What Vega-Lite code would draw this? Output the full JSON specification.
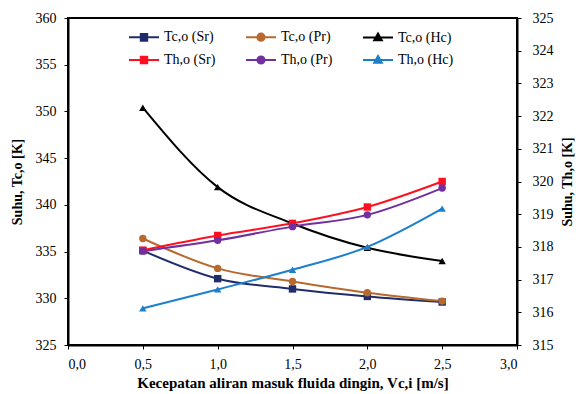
{
  "$schema": "https://vega.github.io/schema/vega-lite/v6.json",
  "autosize": "none",
  "width": 449,
  "height": 327,
  "padding": {"left": 68, "top": 18, "right": 59, "bottom": 49},
  "background": "white",
  "config": {
    "view": {"stroke": "black", "strokeWidth": 2},
    "font": "Liberation Serif, Times New Roman, DejaVu Serif, serif",
    "axis": {
      "labelFont": "Liberation Serif, Times New Roman, DejaVu Serif, serif",
      "labelFontSize": 14,
      "labelColor": "black",
      "titleFont": "Liberation Serif, Times New Roman, DejaVu Serif, serif",
      "titleFontSize": 14,
      "titleFontWeight": "bold",
      "titleColor": "black",
      "domainColor": "black",
      "domainWidth": 2,
      "tickColor": "black",
      "tickSize": 4,
      "grid": false,
      "labelOverlap": false
    },
    "legend": {
      "labelFont": "Liberation Serif, Times New Roman, DejaVu Serif, serif",
      "labelFontSize": 14,
      "labelColor": "black"
    }
  },
  "data": {
    "values": [
      {"x": 0.5, "value": 335.1, "series": "Tc,o (Sr)", "side": "Tc"},
      {"x": 1.0, "value": 332.1, "series": "Tc,o (Sr)", "side": "Tc"},
      {"x": 1.5, "value": 331.0, "series": "Tc,o (Sr)", "side": "Tc"},
      {"x": 2.0, "value": 330.2, "series": "Tc,o (Sr)", "side": "Tc"},
      {"x": 2.5, "value": 329.6, "series": "Tc,o (Sr)", "side": "Tc"},
      {"x": 0.5, "value": 336.4, "series": "Tc,o (Pr)", "side": "Tc"},
      {"x": 1.0, "value": 333.2, "series": "Tc,o (Pr)", "side": "Tc"},
      {"x": 1.5, "value": 331.8, "series": "Tc,o (Pr)", "side": "Tc"},
      {"x": 2.0, "value": 330.6, "series": "Tc,o (Pr)", "side": "Tc"},
      {"x": 2.5, "value": 329.7, "series": "Tc,o (Pr)", "side": "Tc"},
      {"x": 0.5, "value": 350.4, "series": "Tc,o (Hc)", "side": "Tc"},
      {"x": 1.0, "value": 341.9, "series": "Tc,o (Hc)", "side": "Tc"},
      {"x": 1.5, "value": 338.0, "series": "Tc,o (Hc)", "side": "Tc"},
      {"x": 2.0, "value": 335.4, "series": "Tc,o (Hc)", "side": "Tc"},
      {"x": 2.5, "value": 334.0, "series": "Tc,o (Hc)", "side": "Tc"},
      {"x": 0.5, "value": 317.9, "series": "Th,o (Sr)", "side": "Th"},
      {"x": 1.0, "value": 318.35, "series": "Th,o (Sr)", "side": "Th"},
      {"x": 1.5, "value": 318.72, "series": "Th,o (Sr)", "side": "Th"},
      {"x": 2.0, "value": 319.22, "series": "Th,o (Sr)", "side": "Th"},
      {"x": 2.5, "value": 320.0, "series": "Th,o (Sr)", "side": "Th"},
      {"x": 0.5, "value": 317.87, "series": "Th,o (Pr)", "side": "Th"},
      {"x": 1.0, "value": 318.2, "series": "Th,o (Pr)", "side": "Th"},
      {"x": 1.5, "value": 318.62, "series": "Th,o (Pr)", "side": "Th"},
      {"x": 2.0, "value": 318.98, "series": "Th,o (Pr)", "side": "Th"},
      {"x": 2.5, "value": 319.8, "series": "Th,o (Pr)", "side": "Th"},
      {"x": 0.5, "value": 316.12, "series": "Th,o (Hc)", "side": "Th"},
      {"x": 1.0, "value": 316.7, "series": "Th,o (Hc)", "side": "Th"},
      {"x": 1.5, "value": 317.3, "series": "Th,o (Hc)", "side": "Th"},
      {"x": 2.0, "value": 318.0, "series": "Th,o (Hc)", "side": "Th"},
      {"x": 2.5, "value": 319.17, "series": "Th,o (Hc)", "side": "Th"}
    ]
  },
  "encoding": {
    "x": {
      "field": "x",
      "type": "quantitative",
      "scale": {"domain": [0, 3]},
      "axis": {
        "values": [0, 0.5, 1, 1.5, 2, 2.5, 3],
        "labelExpr": "replace(format(datum.value, '.1f'), '.', ',')",
        "labelPadding": 8,
        "title": "Kecepatan aliran  masuk fluida dingin, Vc,i [m/s]",
        "titleFontSize": 15,
        "titlePadding": 4
      }
    }
  },
  "layer": [
    {
      "transform": [{"filter": "datum.side === 'Tc'"}],
      "encoding": {
        "y": {
          "field": "value",
          "type": "quantitative",
          "scale": {"domain": [325, 360], "zero": false},
          "axis": {
            "orient": "left",
            "values": [325, 330, 335, 340, 345, 350, 355, 360],
            "labelPadding": 8,
            "title": "Suhu, Tc,o [K]",
            "titlePadding": 11
          }
        },
        "color": {
          "field": "series",
          "type": "nominal",
          "legend": null,
          "scale": {
            "domain": ["Tc,o (Sr)", "Tc,o (Pr)", "Tc,o (Hc)", "Th,o (Sr)", "Th,o (Pr)", "Th,o (Hc)"],
            "range": ["#1F2D6B", "#B8692D", "#000000", "#FF1020", "#7030A0", "#1B7FCC"]
          }
        }
      },
      "layer": [
        {"mark": {"type": "line", "strokeWidth": 2, "interpolate": "monotone"}},
        {
          "mark": {"type": "point", "filled": true, "opacity": 1, "size": 55},
          "encoding": {
            "shape": {
              "field": "series",
              "type": "nominal",
              "legend": null,
              "scale": {
                "domain": ["Tc,o (Sr)", "Tc,o (Pr)", "Tc,o (Hc)", "Th,o (Sr)", "Th,o (Pr)", "Th,o (Hc)"],
                "range": ["square", "circle", "triangle-up", "square", "circle", "triangle-up"]
              }
            }
          }
        }
      ]
    },
    {
      "transform": [{"filter": "datum.side === 'Th'"}],
      "encoding": {
        "y": {
          "field": "value",
          "type": "quantitative",
          "scale": {"domain": [315, 325], "zero": false},
          "axis": {
            "orient": "right",
            "values": [315, 316, 317, 318, 319, 320, 321, 322, 323, 324, 325],
            "labelPadding": 11,
            "title": "Suhu, Th,o [K]",
            "titleAngle": 270,
            "titleBaseline": "top",
            "titlePadding": 7
          }
        },
        "color": {
          "field": "series",
          "type": "nominal",
          "legend": null,
          "scale": {
            "domain": ["Tc,o (Sr)", "Tc,o (Pr)", "Tc,o (Hc)", "Th,o (Sr)", "Th,o (Pr)", "Th,o (Hc)"],
            "range": ["#1F2D6B", "#B8692D", "#000000", "#FF1020", "#7030A0", "#1B7FCC"]
          }
        }
      },
      "layer": [
        {"mark": {"type": "line", "strokeWidth": 2, "interpolate": "monotone"}},
        {
          "mark": {"type": "point", "filled": true, "opacity": 1, "size": 55},
          "encoding": {
            "shape": {
              "field": "series",
              "type": "nominal",
              "legend": null,
              "scale": {
                "domain": ["Tc,o (Sr)", "Tc,o (Pr)", "Tc,o (Hc)", "Th,o (Sr)", "Th,o (Pr)", "Th,o (Hc)"],
                "range": ["square", "circle", "triangle-up", "square", "circle", "triangle-up"]
              }
            }
          }
        }
      ]
    },
    {
      "mark": {"type": "point", "filled": true, "opacity": 0},
      "encoding": {
        "fill": {
          "field": "series",
          "type": "nominal",
          "scale": {
            "domain": ["Tc,o (Sr)", "Tc,o (Pr)", "Tc,o (Hc)", "Th,o (Sr)", "Th,o (Pr)", "Th,o (Hc)"],
            "range": ["#1F2D6B", "#B8692D", "#000000", "#FF1020", "#7030A0", "#1B7FCC"]
          },
          "legend": {
            "title": null,
            "orient": "none",
            "direction": "horizontal",
            "legendX": 60,
            "legendY": 10,
            "columns": 3,
            "columnPadding": 26,
            "rowPadding": 6,
            "symbolSize": 256,
            "symbolStrokeWidth": 2,
            "symbolOpacity": 1,
            "labelOffset": 18,
            "encode": {
              "symbols": {
                "update": {
                  "stroke": {"signal": "({'Tc,o (Sr)': '#1F2D6B', 'Tc,o (Pr)': '#B8692D', 'Tc,o (Hc)': '#000000', 'Th,o (Sr)': '#FF1020', 'Th,o (Pr)': '#7030A0', 'Th,o (Hc)': '#1B7FCC'})[datum.value]"}
                }
              }
            }
          }
        },
        "shape": {
          "field": "series",
          "type": "nominal",
          "scale": {
            "domain": ["Tc,o (Sr)", "Tc,o (Pr)", "Tc,o (Hc)", "Th,o (Sr)", "Th,o (Pr)", "Th,o (Hc)"],
            "range": [
              "M-1,0H2.75M0.475,-0.42H1.275V0.42H0.475Z",
              "M-1,0H2.75M1.325,0A0.45,0.45,0,1,1,0.425,0A0.45,0.45,0,1,1,1.325,0Z",
              "M-1,0H2.75M0.875,-0.5L1.35,0.35L0.4,0.35Z",
              "M-1,0H2.75M0.475,-0.42H1.275V0.42H0.475Z",
              "M-1,0H2.75M1.325,0A0.45,0.45,0,1,1,0.425,0A0.45,0.45,0,1,1,1.325,0Z",
              "M-1,0H2.75M0.875,-0.5L1.35,0.35L0.4,0.35Z"
            ]
          }
        }
      }
    }
  ],
  "resolve": {
    "scale": {"y": "independent", "color": "independent", "shape": "independent", "fill": "independent"}
  }
}
